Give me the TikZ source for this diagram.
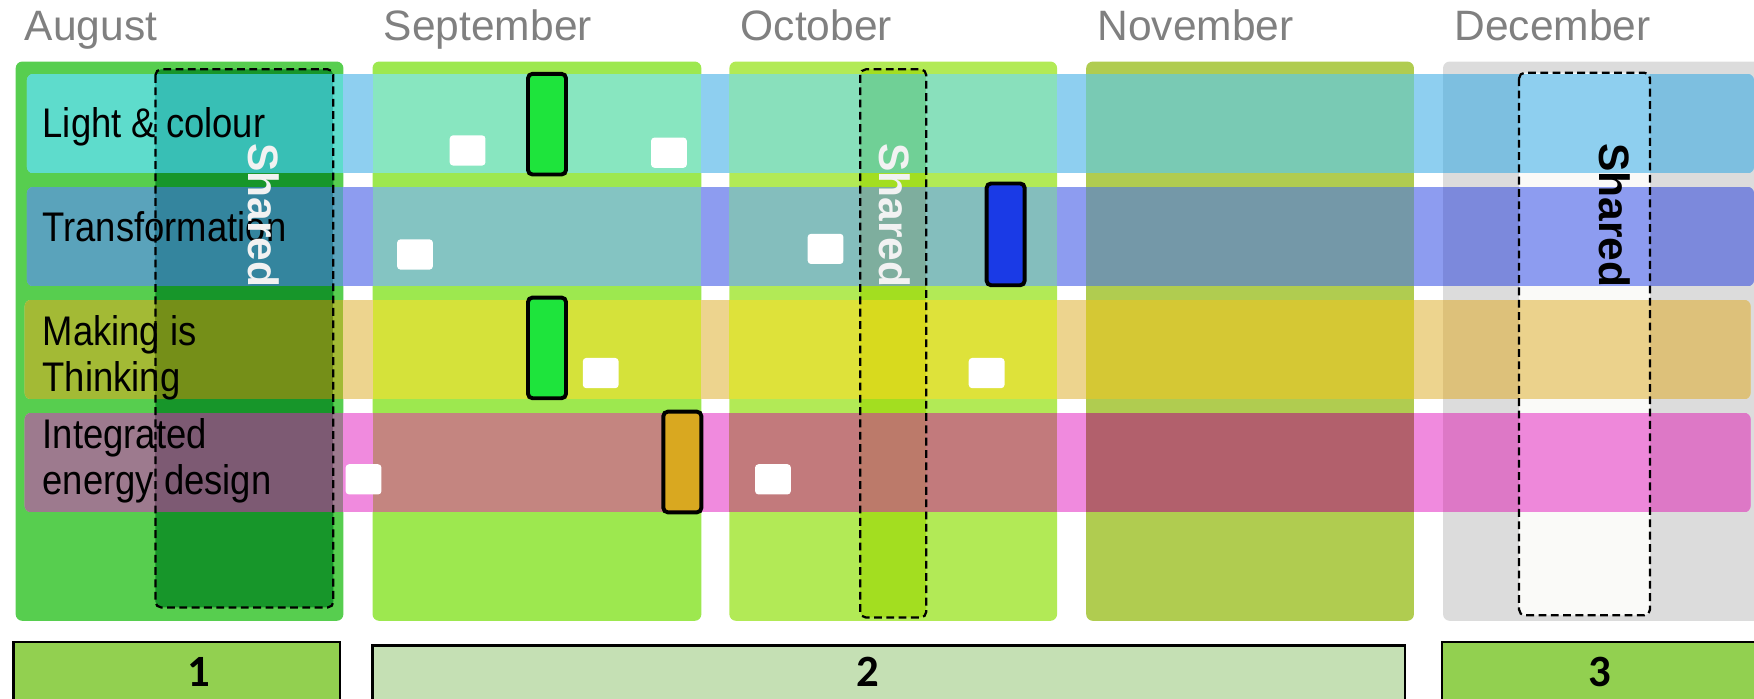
\documentclass[tikz,border=0pt]{standalone}
\usepackage{fontspec}
\setmainfont{Liberation Sans}
\newfontfamily\numfont{Carlito}
\usetikzlibrary{positioning}
\definecolor{augcol}{RGB}{87,206,79}
\definecolor{sepcol}{RGB}{157,232,79}
\definecolor{octcol}{RGB}{178,234,86}
\definecolor{novcol}{RGB}{176,204,80}
\definecolor{deccol}{RGB}{220,220,220}
\definecolor{sharedaug}{RGB}{23,150,42}
\definecolor{sharedoct}{RGB}{163,222,32}
\definecolor{shareddec}{RGB}{250,250,248}
\definecolor{bargreen}{RGB}{30,228,60}
\definecolor{barblue}{RGB}{26,58,230}
\definecolor{bargold}{RGB}{217,168,32}
\definecolor{phaseA}{RGB}{146,208,80}
\definecolor{phaseB}{RGB}{197,224,180}
\definecolor{monthgray}{RGB}{128,128,128}

% one coloured piece of a theme band
\newcommand{\bandcell}[5]{%
  \edef\celltmp{\noexpand\definecolor{cellcol}{HTML}{#5}}\celltmp
  \fill[cellcol] (#1,#3) rectangle (#2,#4);}

\tikzset{
  monthcol/.style={rounded corners=6pt},
  band/.style={rounded corners=6pt},
  sharedbox/.style={draw=black, line width=2pt, dash pattern=on 7pt off 4pt, rounded corners=5pt},
  task/.style={draw=black, line width=3.5pt, rounded corners=4pt},
  marker/.style={fill=white, rounded corners=3pt},
  phase/.style={draw=black, line width=2pt},
  monthlabel/.style={anchor=base west, inner sep=0pt, text=monthgray, font=\fontsize{38}{40}\selectfont},
  rowlabel/.style={anchor=base west, inner sep=0pt, align=left, xscale=0.88, font=\fontsize{37}{41}\selectfont},
  sharedlabel/.style={anchor=base west, inner sep=0pt, rotate=-90, font=\bfseries\fontsize{38}{40}\selectfont},
  phaselabel/.style={anchor=base, inner sep=0pt, font=\numfont\bfseries\fontsize{40}{40}\selectfont}
}

\begin{document}
\begin{tikzpicture}[x=1pt, y=-1pt]
    \useasboundingbox (0,0) rectangle (1568,624);

    % months
    \fill[augcol, monthcol] (14,55) rectangle (307,555);
    \fill[sepcol, monthcol] (333,55) rectangle (627,555);
    \fill[octcol, monthcol] (652,55) rectangle (945,555);
    \fill[novcol, monthcol] (971,55) rectangle (1264,555);
    \fill[deccol, monthcol] (1290,55) rectangle (1580,555);

    \node[monthlabel] (august) at (22,36) {August};
    \node[monthlabel] (september) at (343,36) {September};
    \node[monthlabel] (october) at (662,36) {October};
    \node[monthlabel] (november) at (981,36) {November};
    \node[monthlabel] (december) at (1300,36) {December};

    % shared weeks
    \fill[sharedaug, rounded corners=5pt] (139,62) rectangle (298,543);
    \fill[sharedoct, rounded corners=5pt] (769,62) rectangle (828,552);
    \fill[shareddec, rounded corners=5pt] (1358,65) rectangle (1475,550);

    % themes: gap, aug, shared, sep, oct, shared, nov, dec, shared
    \begin{scope}
        \clip[band] (24,66) rectangle (1568,155);
        \foreach \xa/\xb/\col in {0/1600/8ECFF0, 14/307/5EDCCC, 139/298/38BFB5, 333/627/88E6C0, 652/945/89E0BC, 769/828/70D096, 971/1264/79CAB4, 1290/1600/7DBFE0, 1358/1475/8ECFEF}
            \bandcell{\xa}{\xb}{66}{155}{\col};
    \end{scope}
    \begin{scope}
        \clip[band] (24,167) rectangle (1568,256);
        \foreach \xa/\xb/\col in {0/1600/8D9CF0, 14/307/5AA3BB, 139/298/34859E, 333/627/84C4C2, 652/945/84BEBD, 769/828/7EAE9E, 971/1264/7498A8, 1290/1600/7C89DC, 1358/1475/8D9CF0}
            \bandcell{\xa}{\xb}{167}{256}{\col};
    \end{scope}
    \begin{scope}
        \clip[band] (22,268) rectangle (1565,357);
        \foreach \xa/\xb/\col in {0/1600/EDD48E, 14/307/A3BA35, 139/298/758F18, 333/627/D5E23A, 652/945/DEE23A, 769/828/D8DA1E, 971/1264/D5C834, 1290/1600/DDC17A, 1358/1475/EBD28C}
            \bandcell{\xa}{\xb}{268}{357}{\col};
    \end{scope}
    \begin{scope}
        \clip[band] (22,369) rectangle (1565,458);
        \foreach \xa/\xb/\col in {0/1600/F08ADE, 14/307/9D7A8E, 139/298/7D5A73, 333/627/C48580, 652/945/C27A7C, 769/828/BC7A6A, 971/1264/B2606C, 1290/1600/DD78C6, 1358/1475/EE88DA}
            \bandcell{\xa}{\xb}{369}{458}{\col};
    \end{scope}

    \fill[marker] (402,121) rectangle +(32,27);
    \fill[marker] (582,123) rectangle +(32,27);
    \fill[marker] (355,214) rectangle +(32,27);
    \fill[marker] (722,209) rectangle +(32,27);
    \fill[marker] (521,320) rectangle +(32,27);
    \fill[marker] (866,320) rectangle +(32,27);
    \fill[marker] (309,415) rectangle +(32,27);
    \fill[marker] (675,415) rectangle +(32,27);

    \draw[task, fill=bargreen] (472,66) rectangle (506,156);
    \draw[task, fill=barblue] (882,164) rectangle (916,255);
    \draw[task, fill=bargreen] (472,266) rectangle (506,356);
    \draw[task, fill=bargold] (593,368) rectangle (627,458);

    \draw[sharedbox] (139,62) rectangle (298,543);
    \draw[sharedbox] (769,62) rectangle (828,552);
    \draw[sharedbox] (1358,65) rectangle (1475,550);

    \node[rowlabel] (light) at (38,123) {Light \& colour};
    \node[rowlabel] (transform) at (38,216) {Transformation};
    \node[rowlabel] (making) at (38,350) {Making is\\Thinking};
    \node[rowlabel] (energy) at (38,442) {Integrated\\energy design};

    \node[sharedlabel, text=white!95!black] (sharedA) at (222,128) {Shared};
    \node[sharedlabel, text=white!95!black] (sharedB) at (786,128) {Shared};
    \node[sharedlabel, text=black] (sharedC) at (1430,128) {Shared};

    % phases
    \draw[phase, fill=phaseA] (12,574) rectangle (304,640);
    \draw[phase, fill=phaseB] (333,577) rectangle (1256,640);
    \draw[phase, fill=phaseA] (1289,574) rectangle (1580,640);
    \node[phaselabel] (one) at (178,614) {1};
    \node[phaselabel] (two) at (776,614) {2};
    \node[phaselabel] (three) at (1430,614) {3};
\end{tikzpicture}
\end{document}
